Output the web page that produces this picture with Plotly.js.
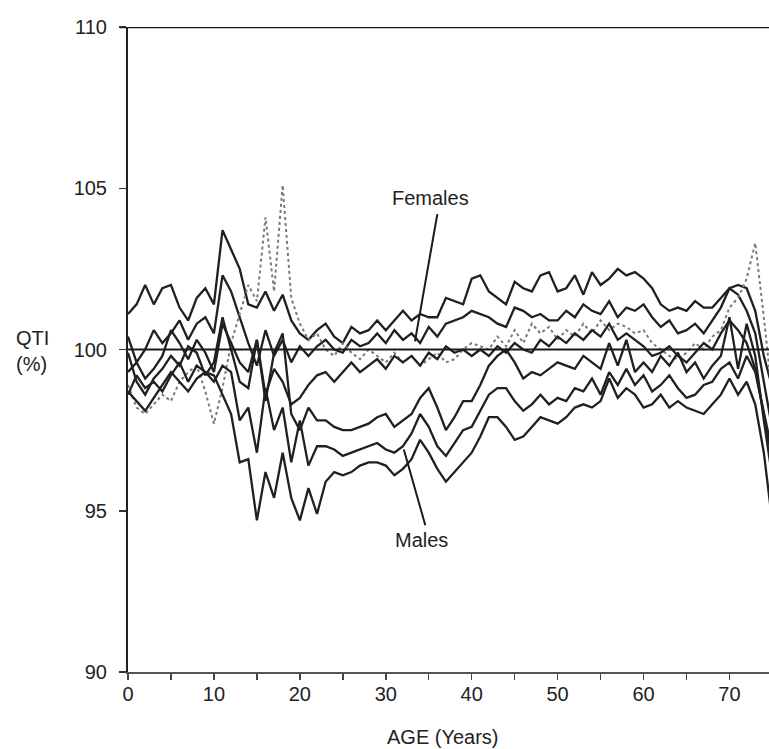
<!DOCTYPE html>
<html><head><meta charset="utf-8">
<script src="https://cdn.plot.ly/plotly-3.0.1.min.js"></script>
<style>html,body{margin:0;padding:0;background:#fff}#chart{width:769px;height:749px}</style>
</head><body><div id="chart"></div>
<script>
// Age in years
const ages = Array.from({length: 76}, (_, i) => i);

// Females (upper, middle, dotted, lower)
const femaleUpper = [101.1,101.4,102.0,101.4,101.9,102.0,101.3,100.9,101.6,101.9,101.4,103.7,103.1,102.5,101.4,101.3,101.8,101.2,101.7,100.9,100.5,
  100.3,100.6,100.8,100.4,100.2,100.7,100.5,100.6,100.9,100.6,
  100.9,101.2,100.9,101.1,101.0,101.0,101.6,101.5,101.4,102.2,
  102.3,101.8,101.6,101.4,102.1,101.9,101.8,102.3,102.4,101.8,
  101.9,102.3,101.7,102.4,102.0,102.2,102.5,102.3,102.4,102.2,
  101.9,101.4,101.2,101.3,101.2,101.5,101.3,101.3,101.6,101.9,
  102.0,101.9,101.2,99.8,98.8];
const femaleMiddle = [100.4,99.6,100.0,100.6,100.2,100.5,100.9,100.3,100.8,101.0,100.5,102.3,101.8,101.0,100.2,99.5,100.6,99.8,100.3,99.6,100.1,
  99.8,100.1,100.3,100.0,99.9,100.3,100.1,100.2,100.5,100.2,
  100.6,100.3,100.5,100.2,100.7,100.4,100.8,100.9,101.0,101.2,
  101.1,101.0,100.8,100.7,101.3,101.2,101.0,101.1,100.9,100.9,
  101.2,101.0,101.4,101.2,101.1,101.5,101.0,101.3,101.2,101.4,
  101.0,100.7,100.9,100.5,100.6,100.8,100.5,100.9,101.3,101.9,
  101.7,101.2,100.5,99.0,97.5];
const femaleDotted = [98.9,98.2,98.0,98.3,98.6,98.4,99.0,99.3,99.5,98.7,97.7,98.8,100.2,101.1,102.0,101.5,104.1,101.8,105.1,101.6,100.8,
  100.3,100.5,100.0,99.8,100.2,99.9,99.7,100.0,99.8,99.6,
  99.9,99.6,99.8,99.5,99.7,99.9,99.6,99.7,100.0,100.2,
  100.1,100.0,100.4,100.1,100.6,100.2,100.8,100.5,100.7,100.3,
  100.6,100.4,100.8,100.5,100.9,100.6,100.8,100.7,100.5,100.6,
  100.2,100.0,99.8,99.7,99.9,100.2,100.0,100.4,100.6,101.3,
  101.6,102.2,103.3,101.0,98.5];
const femaleLower = [99.3,99.6,99.1,99.4,99.8,100.6,100.2,99.7,100.3,99.9,99.3,100.8,100.2,99.6,99.3,100.3,98.6,99.4,99.0,98.3,98.5,
  98.9,99.2,99.3,99.0,99.3,99.6,99.3,99.5,99.7,99.4,
  99.8,99.6,99.8,99.5,99.9,99.7,100.1,99.9,100.0,99.8,
  100.0,99.8,100.1,99.9,100.2,100.0,99.9,100.3,100.1,100.4,
  100.2,100.5,100.3,100.6,100.4,100.8,100.3,100.5,100.3,100.1,
  99.8,99.9,100.1,99.8,99.6,99.9,100.2,100.0,100.5,100.9,
  100.6,100.2,99.4,98.0,96.5];

// Males (upper, middle, lower)
const maleUpper = [99.9,99.0,98.6,99.1,99.4,99.8,99.5,100.1,99.9,99.2,99.6,101.0,100.0,99.0,98.8,100.3,98.4,99.9,100.5,98.0,97.5,
  98.2,97.8,97.8,97.6,97.5,97.5,97.6,97.7,97.9,98.0,
  97.6,97.8,98.0,98.5,98.8,98.2,97.5,97.9,98.4,98.4,
  98.9,99.5,99.8,100.0,99.6,99.1,99.3,99.2,99.4,99.6,
  99.5,99.4,99.8,99.6,99.4,100.2,99.5,100.3,99.3,99.6,
  99.3,99.8,99.5,99.9,99.3,99.6,99.1,99.5,99.8,101.0,
  99.4,100.8,99.8,97.8,96.0];
const maleMiddle = [98.6,99.2,98.8,99.0,98.7,99.2,99.6,99.0,99.5,99.3,99.0,99.5,99.3,97.8,98.2,96.8,98.8,97.5,98.2,96.5,97.8,
  96.4,97.0,97.0,96.9,96.7,96.8,96.9,97.0,97.1,96.9,
  96.8,97.0,97.4,98.0,97.6,97.0,96.7,97.1,97.5,97.6,
  98.1,98.6,98.8,98.8,98.4,98.1,98.3,98.6,98.3,98.5,
  98.4,98.8,98.7,99.1,98.6,99.3,98.9,99.4,98.9,99.2,
  98.7,98.9,99.2,98.8,98.5,98.6,98.9,99.0,99.4,99.6,
  99.1,99.8,99.3,98.0,96.8];
const maleLower = [98.7,98.4,98.1,98.5,98.9,99.3,99.0,98.7,99.1,99.3,99.2,98.6,98.0,96.5,96.6,94.7,96.2,95.4,96.8,95.4,94.7,
  95.7,94.9,95.9,96.2,96.1,96.2,96.4,96.5,96.5,96.4,
  96.1,96.3,96.6,97.2,96.8,96.3,95.9,96.2,96.5,96.8,
  97.3,97.9,97.9,97.6,97.2,97.3,97.6,97.9,97.8,97.7,
  97.9,98.2,98.3,98.2,98.4,99.1,98.5,98.8,98.6,98.2,
  98.3,98.6,98.2,98.4,98.2,98.1,98.0,98.3,98.6,99.1,
  98.6,99.0,98.3,96.8,94.6];

const xTickVals = [0,5,10,15,20,25,30,35,40,45,50,55,60,65,70];
const xTickText = ['0','','10','','20','','30','','40','','50','','60','','70'];
const yTickVals = [90,95,100,105,110];

const solid = {color: '#202020', width: 2.3};
const dotted = {color: '#7a7a7a', width: 2, dash: 'dot'};
const series = [
  [femaleUpper, solid], [femaleMiddle, solid], [femaleDotted, dotted], [femaleLower, solid],
  [maleUpper, solid], [maleMiddle, solid], [maleLower, solid]
];
const data = series.map(([y, line]) => ({
  x: ages, y: y, type: 'scatter', mode: 'lines', line: line, hoverinfo: 'skip', showlegend: false
}));

const font = {family: 'Liberation Sans, Arial, sans-serif', size: 20, color: '#222'};
const layout = {
  width: 769, height: 749,
  margin: {l: 128, r: 0, t: 27, b: 77},
  paper_bgcolor: '#fff', plot_bgcolor: '#fff',
  font: font,
  showlegend: false,
  xaxis: {
    range: [0, 74.6], tickvals: xTickVals, ticktext: xTickText,
    ticks: 'outside', ticklen: 6, tickwidth: 1.5, tickcolor: '#444',
    ticklabelstandoff: -3,
    showline: true, linecolor: '#555', linewidth: 2,
    showgrid: false, zeroline: false, tickfont: font
  },
  yaxis: {
    range: [90, 110], tickvals: yTickVals,
    ticks: 'outside', ticklen: 7, tickwidth: 1.5, tickcolor: '#333',
    ticklabelstandoff: 8,
    showline: true, linecolor: '#222', linewidth: 2,
    showgrid: false, zeroline: false, tickfont: font
  },
  shapes: [
    {type: 'line', xref: 'paper', yref: 'y', x0: 0, x1: 1, y0: 100, y1: 100, line: {color: '#1a1a1a', width: 2}},
    {type: 'line', xref: 'paper', yref: 'y', x0: -0.012, x1: 1, y0: 110, y1: 110, line: {color: '#1a1a1a', width: 2.5}},
    {type: 'line', xref: 'x', yref: 'y', x0: 36.0, y0: 104.2, x1: 33.4, y1: 100.25, line: {color: '#1a1a1a', width: 2}},
    {type: 'line', xref: 'x', yref: 'y', x0: 34.6, y0: 94.55, x1: 32.1, y1: 96.9, line: {color: '#1a1a1a', width: 2}}
  ],
  annotations: [
    {text: 'Females', xref: 'x', yref: 'y', x: 35.2, y: 104.7, showarrow: false, font: font, xanchor: 'center', yanchor: 'middle'},
    {text: 'Males', xref: 'x', yref: 'y', x: 34.2, y: 94.1, showarrow: false, font: font, xanchor: 'center', yanchor: 'middle'},
    {text: 'QTI<br>(%)', xref: 'paper', yref: 'paper', x: -0.178, y: 0.497, showarrow: false, font: font, xanchor: 'left', yanchor: 'middle', align: 'left'},
    {text: 'AGE (Years)', xref: 'paper', yref: 'paper', x: 0.491, y: -0.101, showarrow: false, font: font, xanchor: 'center', yanchor: 'middle'}
  ]
};
Plotly.newPlot('chart', data, layout, {displayModeBar: false, staticPlot: true});
</script></body></html>
